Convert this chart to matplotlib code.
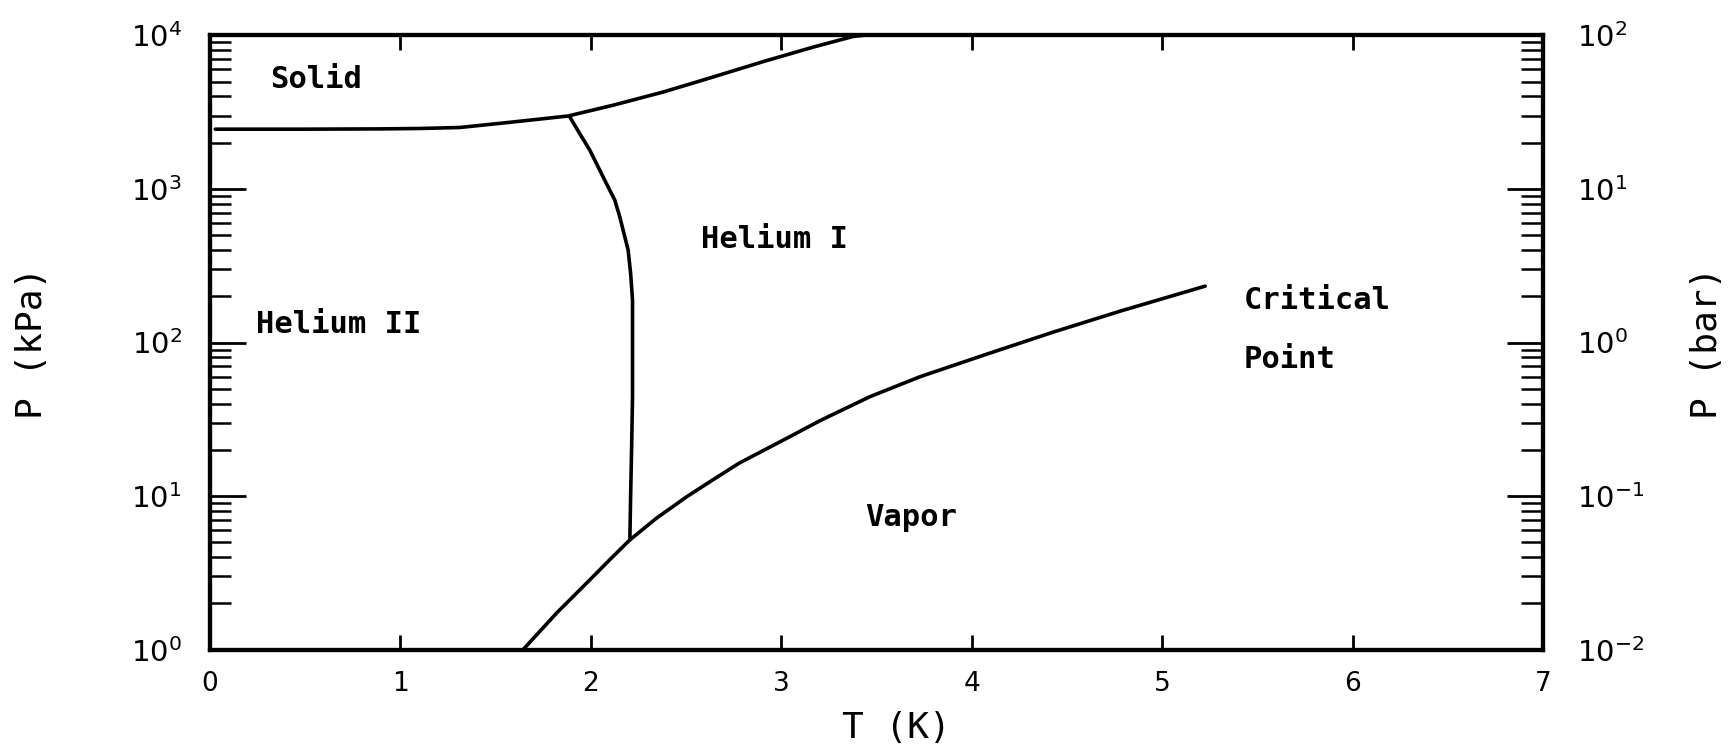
import matplotlib
matplotlib.use("Agg")
import matplotlib.pyplot as plt
from matplotlib.ticker import LogLocator, FixedLocator, NullFormatter, FixedFormatter

# ---- data (T in K, P in kPa) ----
melt_T = [0.03, 0.5, 0.893, 1.1, 1.313, 1.593, 1.882, 2.118, 2.381, 2.643, 2.906, 3.169, 3.379, 3.43]
melt_P = [2450, 2450, 2460, 2475, 2512, 2729, 2985, 3508, 4276, 5356, 6745, 8388, 9843, 10000]

lambda_T = [1.891, 1.943, 1.996, 2.083, 2.127, 2.153, 2.197, 2.21, 2.22, 2.22, 2.215, 2.21, 2.206]
lambda_P = [2944, 2290, 1786, 1084, 845, 658, 400, 282, 189, 44.4, 20.0, 10.0, 5.19]

vapor_T = [1.645, 1.821, 1.996, 2.10, 2.206, 2.346, 2.504, 2.643, 2.78, 3.046, 3.204,
           3.466, 3.729, 4.079, 4.429, 4.779, 5.226]
vapor_P = [1.0, 1.73, 2.85, 3.85, 5.19, 7.19, 9.9, 12.8, 16.4, 24.4, 31.0,
           44.4, 59.9, 84.0, 117, 160, 233]

x_ticks = [0, 1, 2, 3, 4, 5, 6, 7]
kpa_ticks = [1, 10, 100, 1000, 10000]
kpa_labels = [r"$10^{0}$", r"$10^{1}$", r"$10^{2}$", r"$10^{3}$", r"$10^{4}$"]
bar_ticks = [0.01, 0.1, 1, 10, 100]
bar_labels = [r"$10^{-2}$", r"$10^{-1}$", r"$10^{0}$", r"$10^{1}$", r"$10^{2}$"]

region_labels = ["Solid", "Helium II", "Helium I", "Critical", "Point", "Vapor"]
region_T = [0.32, 0.245, 2.58, 5.43, 5.43, 3.44]
region_P = [5130, 132, 468, 187, 78, 7.3]

plt.rcParams['mathtext.fontset'] = 'dejavusans'
fig = plt.figure(figsize=(17.32, 7.52), dpi=100)
ax = fig.add_axes([0.121, 0.136, 0.770, 0.817])

lw = 2.6
for tt, pp in ((melt_T, melt_P), (lambda_T, lambda_P), (vapor_T, vapor_P)):
    ax.plot(tt, pp, color='black', lw=lw, solid_capstyle='round', solid_joinstyle='round')

ax.set_xlim(0, 7)
ax.set_yscale('log')
ax.set_ylim(1, 10000)

ax.xaxis.set_major_locator(FixedLocator(x_ticks))
ax.set_xticklabels([str(t) for t in x_ticks])
ax.yaxis.set_major_locator(FixedLocator(kpa_ticks))
ax.yaxis.set_major_formatter(FixedFormatter(kpa_labels))
ax.yaxis.set_minor_locator(LogLocator(base=10, subs=range(2, 10)))
ax.yaxis.set_minor_formatter(NullFormatter())

for s in ax.spines.values():
    s.set_linewidth(3)

ax.tick_params(axis='x', which='major', direction='in', length=11, width=2,
               top=True, labelsize=19, pad=15)
ax.tick_params(axis='y', which='major', direction='in', length=26, width=2,
               labelsize=21, pad=20)
ax.tick_params(axis='y', which='minor', direction='in', length=15, width=1.8)

ax2 = ax.twinx()
ax2.set_yscale('log')
ax2.set_ylim(0.01, 100)
ax2.yaxis.set_major_locator(FixedLocator(bar_ticks))
ax2.yaxis.set_major_formatter(FixedFormatter(bar_labels))
ax2.yaxis.set_minor_locator(LogLocator(base=10, subs=range(2, 10)))
ax2.yaxis.set_minor_formatter(NullFormatter())
ax2.tick_params(axis='y', which='major', direction='in', length=26, width=2,
                labelsize=21, pad=24)
ax2.tick_params(axis='y', which='minor', direction='in', length=16, width=1.8)
for s in ax2.spines.values():
    s.set_linewidth(3)

font = dict(family='DejaVu Sans Mono', fontsize=22, fontweight='bold')
for lab, t, p in zip(region_labels, region_T, region_P):
    ax.text(t, p, lab, ha='left', va='center', **font)

ax.set_xlabel("T (K)", fontsize=26, family='DejaVu Sans Mono')
ax.xaxis.set_label_coords(0.515, -0.10)
ax.set_ylabel("P (kPa)", fontsize=26, family='DejaVu Sans Mono', va='center')
ax.yaxis.set_label_coords(-0.133, 0.5)
ax2.set_ylabel("P (bar)", fontsize=26, family='DejaVu Sans Mono', va='center', rotation=90)
ax2.yaxis.set_label_coords(1.123, 0.5)

fig.savefig("out.png", dpi=100)
